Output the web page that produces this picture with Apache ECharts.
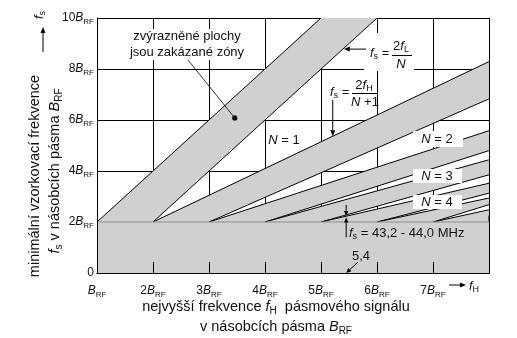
<!DOCTYPE html>
<html><head><meta charset="utf-8">
<script src="https://cdn.jsdelivr.net/npm/echarts@6/dist/echarts.min.js"></script>
<style>html,body{margin:0;padding:0;background:#fff}#c{width:517px;height:338px}</style>
</head><body><div id="c"></div>
<script>
// ---- data (units of B_RF) ----
const xTickValues = [1, 2, 3, 4, 5, 6, 7, 8];
const yTickValues = [0, 2, 4, 6, 8, 10];
// forbidden zones: upper edge start/end, lower edge start/end  [fH, fs]
const bandUpperStart = [[1, 2], [2, 2], [3, 2], [4, 2], [5, 2], [6, 2], [7, 2]];
const bandUpperEnd   = [[5, 10], [8, 8.29], [8, 5.58], [8, 4.44], [8, 3.52], [8, 2.94], [8, 2.48]];
const bandLowerEnd   = [[6, 10], [8, 6.83], [8, 4.80], [8, 3.85], [8, 3.13], [8, 2.68], [8, 2.25]];
const bandLowerStart = [[2, 2], [3, 2], [4, 2], [5, 2], [6, 2], [7, 2], [8, 2]];
const baseZone = [[1, 0], [8, 0], [8, 2], [1, 2]];
const exampleFH = 5.45;           // f_H = 5,4 B_RF
const exampleFs = [2.24, 2.18];   // fs = 43,2 - 44,0 MHz

const FONT = '"Liberation Sans", Arial, sans-serif';
const GRAY = '#d0d0d0';
const INK = '#111';
function mkRich(size, sub, lh) {
  return {
    n: {fontSize: size, fontFamily: FONT, color: INK, lineHeight: lh},
    i: {fontSize: size, fontFamily: FONT, fontStyle: 'italic', color: INK, lineHeight: lh},
    s: {fontSize: sub, fontFamily: FONT, color: INK, verticalAlign: 'bottom'}
  };
}
const rich12 = mkRich(12, 8, 16);
const rich13 = mkRich(13, 9, 17);
const rich14 = mkRich(14.5, 10, 19);
function bLabel(v) {
  if (v === 0) return '{n|0}';
  return (v === 1 ? '' : '{n|' + v + '}') + '{i|B}{s|RF}';
}

const chart = echarts.init(document.getElementById('c'));
const gridPos = {left: 97, right: 28, top: 18, bottom: 65};
const option = {
  animation: false,
  grid: [Object.assign({}, gridPos), Object.assign({}, gridPos)],
  xAxis: [
    {gridIndex: 0, type: 'value', min: 1, max: 8, interval: 1, z: 0,
     axisLine: {show: false}, axisTick: {show: false},
     axisLabel: {formatter: v => v === 8 ? '' : bLabel(v), rich: rich12, margin: 10},
     splitLine: {show: true, lineStyle: {color: '#000', width: 1}}},
    {gridIndex: 1, type: 'value', min: 1, max: 8, interval: 1, position: 'bottom', z: 5,
     axisLine: {show: true, lineStyle: {color: '#000', width: 1}},
     axisTick: {show: false}, axisLabel: {show: false}, splitLine: {show: false}},
    {gridIndex: 1, type: 'value', min: 1, max: 8, interval: 1, position: 'top', z: 5,
     axisLine: {show: true, lineStyle: {color: '#000', width: 1}},
     axisTick: {show: false}, axisLabel: {show: false}, splitLine: {show: false}}
  ],
  yAxis: [
    {gridIndex: 0, type: 'value', min: 0, max: 10, interval: 2, z: 0,
     axisLine: {show: false}, axisTick: {show: false},
     axisLabel: {formatter: v => bLabel(v), rich: rich12, margin: 3},
     splitLine: {show: true, lineStyle: {color: '#000', width: 1}}},
    {gridIndex: 1, type: 'value', min: 0, max: 10, interval: 2, position: 'left', z: 5,
     axisLine: {show: true, lineStyle: {color: '#000', width: 1}},
     axisTick: {show: false}, axisLabel: {show: false}, splitLine: {show: false}},
    {gridIndex: 1, type: 'value', min: 0, max: 10, interval: 2, position: 'right', z: 5,
     axisLine: {show: true, lineStyle: {color: '#000', width: 1}},
     axisTick: {show: false}, axisLabel: {show: false}, splitLine: {show: false}}
  ],
  series: [
    {type: 'custom', xAxisIndex: 0, yAxisIndex: 0, z: 2, data: bandUpperStart,
     renderItem: function (params, api) {
       const i = params.dataIndex;
       const pts = [bandUpperStart[i], bandUpperEnd[i], bandLowerEnd[i], bandLowerStart[i]].map(p => api.coord(p));
       return {type: 'group', children: [
         {type: 'polygon', shape: {points: pts}, style: {fill: GRAY}},
         {type: 'polyline', shape: {points: [pts[0], pts[1]]}, style: {stroke: '#000', lineWidth: 1, fill: null}},
         {type: 'polyline', shape: {points: [pts[3], pts[2]]}, style: {stroke: '#000', lineWidth: 1, fill: null}}
       ]};
     }},
    {type: 'custom', xAxisIndex: 0, yAxisIndex: 0, z: 3, data: [baseZone[0]],
     renderItem: function (params, api) {
       const pts = baseZone.map(p => api.coord(p));
       return {type: 'group', children: [
         {type: 'polygon', shape: {points: pts}, style: {fill: GRAY}},
         {type: 'polyline', shape: {points: [pts[3], pts[2]]}, style: {stroke: '#8e8e8e', lineWidth: 1, fill: null}}
       ]};
     }},
    // inside ticks on the f_H axis, drawn above the grey zone
    {type: 'custom', xAxisIndex: 0, yAxisIndex: 0, z: 4,
     data: xTickValues.slice(1, -1).map(v => [v, 0]),
     renderItem: function (params, api) {
       const p = api.coord([api.value(0), 0]);
       const x = Math.round(p[0]) + 0.5;
       return {type: 'line', shape: {x1: x, y1: p[1], x2: x, y2: p[1] - 11}, style: {stroke: '#000', lineWidth: 1}};
     }}
  ]
};
chart.setOption(option);

// ---- annotations ----
const px = p => chart.convertToPixel({gridIndex: 0}, p);
function arrow(x1, y1, x2, y2, head, w) {
  head = head || 6; w = w || 2.5;
  const dx = x2 - x1, dy = y2 - y1, L = Math.hypot(dx, dy), ux = dx / L, uy = dy / L;
  const bx = x2 - ux * head, by = y2 - uy * head;
  return [
    {type: 'line', z: 30, shape: {x1: x1, y1: y1, x2: bx, y2: by}, style: {stroke: '#000', lineWidth: 1}},
    {type: 'polygon', z: 30, shape: {points: [[x2, y2], [bx - uy * w, by + ux * w], [bx + uy * w, by - ux * w]]}, style: {fill: '#000'}}
  ];
}
function text(x, y, t, opt) {
  opt = opt || {};
  return {type: 'text', z: 30, x: x, y: y, rotation: opt.rot || 0,
    style: {text: t, rich: opt.rich || rich13, fontSize: 13, fontFamily: FONT, fill: INK,
      align: opt.align || 'center', verticalAlign: 'middle'}};
}
function box(x, y, w, h) {
  return {type: 'rect', z: 25, shape: {x: x, y: y, width: w, height: h}, style: {fill: '#fff'}};
}
function edgeAt(i, fH, upper) {
  const a = upper ? bandUpperStart[i] : bandLowerStart[i];
  const b = upper ? bandUpperEnd[i] : bandLowerEnd[i];
  return a[1] + (b[1] - a[1]) * (fH - a[0]) / (b[0] - a[0]);
}

const g = [];
// y axis title
g.push(text(35, 176, '{n|minimální vzorkovací frekvence}', {rot: Math.PI / 2, rich: rich14}));
g.push(text(55, 171, '{i|f}{s|s}{n| v násobcích pásma }{i|B}{s|RF}', {rot: Math.PI / 2, rich: rich14}));
g.push(text(39, 15, '{i|f}{s|s}', {rot: Math.PI / 2}));
g.push(...arrow(43, 52, 43, 27));
// x axis title
g.push(text(276, 307, '{n|nejvyšší frekvence }{i|f}{s|H}{n|  pásmového signálu}', {rich: rich14}));
g.push(text(276, 327, '{n|v násobcích pásma }{i|B}{s|RF}', {rich: rich14}));
g.push(...arrow(449, 285, 466, 285));
g.push(text(469, 286, '{i|f}{s|H}', {align: 'left'}));
// forbidden zone note
g.push(box(128, 29, 119, 31));
g.push(text(187, 36, '{n|zvýrazněné plochy}'));
g.push(text(187, 52, '{n|jsou zakázané zóny}'));
const dot = px([3.46, 6.08]);
g.push({type: 'line', z: 30, shape: {x1: 188, y1: 60, x2: dot[0], y2: dot[1]}, style: {stroke: '#000', lineWidth: 0.8}});
g.push({type: 'circle', z: 30, shape: {cx: dot[0], cy: dot[1], r: 2.6}, style: {fill: '#000'}});
// fs = 2fL / N
g.push(box(364, 33, 50, 38));
const tipL = px([1 + 8.78 / 2, 8.78]);
g.push(...arrow(366, tipL[1], tipL[0] + 1, tipL[1]));
g.push(text(370, 53, '{i|f}{s|s}{n| =}', {align: 'left'}));
g.push(text(401, 46, '{n|2}{i|f}{s|L}'));
g.push({type: 'line', z: 30, shape: {x1: 392, y1: 55.5, x2: 412, y2: 55.5}, style: {stroke: '#000', lineWidth: 1}});
g.push(text(401, 64, '{i|N}'));
// fs = 2fH / (N+1)
const fHa = 5.21;
const tipH = px([fHa, edgeAt(1, fHa, true)]);
g.push(...arrow(tipH[0], 100, tipH[0], tipH[1]));
g.push(text(330, 92, '{i|f}{s|s}{n| =}', {align: 'left'}));
g.push(text(364, 85, '{n|2}{i|f}{s|H}'));
g.push({type: 'line', z: 30, shape: {x1: 352, y1: 93.5, x2: 377, y2: 93.5}, style: {stroke: '#000', lineWidth: 1}});
g.push(text(365, 102, '{i|N}{n| +1}'));
// N labels
g.push(text(284, 140, '{i|N}{n| = 1}'));
g.push(box(413, 131, 50, 16));
g.push(text(437, 139, '{i|N}{n| = 2}'));
g.push(box(413, 169, 49, 14));
g.push(text(437, 176, '{i|N}{n| = 3}'));
g.push(box(413, 195, 49, 14));
g.push(text(437, 202, '{i|N}{n| = 4}'));
// example fH = 5,4
const pTop = px([exampleFH, exampleFs[0]]);
const pBot = px([exampleFH, exampleFs[1]]);
g.push(...arrow(pTop[0], pTop[1] - 11, pTop[0], pTop[1], 5, 2.2));
g.push(...arrow(pBot[0], pBot[1] + 20, pBot[0], pBot[1], 5, 2.2));
g.push(text(349, 233, '{i|f}{s|s}{n| = 43,2 - 44,0 MHz}', {align: 'left'}));
g.push(text(352, 256, '{n|5,4}', {align: 'left'}));
const pAx = px([exampleFH, 0]);
g.push(...arrow(358, 262, pAx[0], pAx[1], 5, 2.2));
chart.setOption({graphic: g});
</script></body></html>
